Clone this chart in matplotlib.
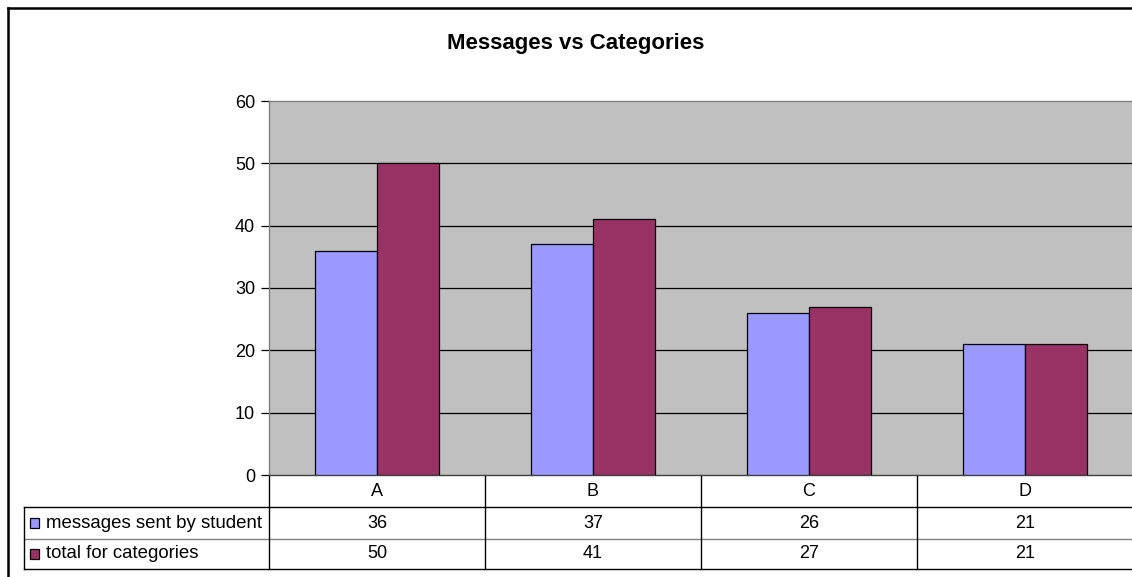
import matplotlib.pyplot as plt
import matplotlib.transforms as mtransforms
from matplotlib.lines import Line2D
from matplotlib.patches import Rectangle
import numpy as np

plt.rcParams['font.family'] = ['Liberation Sans', 'DejaVu Sans']

categories = ["A", "B", "C", "D"]
series_names = ["messages sent by student", "total for categories"]
sent_by_student = [36, 37, 26, 21]
total_for_categories = [50, 41, 27, 21]
y_ticks = [0, 10, 20, 30, 40, 50, 60]

colors = ["#9999FF", "#993366"]

W, H = 1132, 577
fig = plt.figure(figsize=(W / 100, H / 100), dpi=100)

# plot area in pixel terms
left, right, top, bottom = 269, 1133, 101, 475
ax = fig.add_axes([left / W, 1 - bottom / H, (right - left) / W, (bottom - top) / H])
ax.set_facecolor("#C0C0C0")

x = np.arange(len(categories))
bw = 0.287
ax.bar(x - bw / 2, sent_by_student, bw, color=colors[0], edgecolor="black", linewidth=0.9, zorder=3)
ax.bar(x + bw / 2, total_for_categories, bw, color=colors[1], edgecolor="black", linewidth=0.9, zorder=3)

ax.set_xlim(-0.5, len(categories) - 0.5)
ax.set_ylim(0, 60)
ax.set_yticks(y_ticks)
ax.set_yticklabels([str(t) for t in y_ticks], fontsize=13)
ax.tick_params(axis="y", length=6, width=0.9, pad=4, colors="black")
ax.set_xticks([])
for t in y_ticks[1:-1]:
    ax.axhline(t, color="black", linewidth=0.9, zorder=1)

ax.spines["top"].set_color("#808080")
ax.spines["right"].set_visible(False)
ax.spines["left"].set_color("#808080")
ax.spines["bottom"].set_color("#404040")
for s in ax.spines.values():
    s.set_linewidth(1.0)

# data table under the chart: x in data units, y in axes fraction
trans = mtransforms.blended_transform_factory(ax.transData, ax.transAxes)
ph = bottom - top
rows_px = [475, 507, 539, 569]
rows = [(bottom - r) / ph for r in rows_px]
label_left = -0.5 - (left - 24) / 216
edges = np.arange(len(categories) + 1) - 0.5

def hline(x0, x1, y, color="black", lw=1.0):
    ax.add_line(Line2D([x0, x1], [y, y], transform=trans, color=color, lw=lw, clip_on=False))

def vline(xv, y0, y1, color="black", lw=1.0):
    ax.add_line(Line2D([xv, xv], [y0, y1], transform=trans, color=color, lw=lw, clip_on=False))

hline(label_left, edges[-1], rows[1])
hline(label_left, edges[-1], rows[2], color="#808080")
hline(label_left, edges[-1], rows[3])
vline(label_left, rows[1], rows[3])
for e in edges:
    vline(e, rows[0], rows[3])

for i, c in enumerate(categories):
    ax.text(x[i], (rows[0] + rows[1]) / 2, c, transform=trans, ha="center", va="center", fontsize=13)

for r, (name, vals) in enumerate(zip(series_names, [sent_by_student, total_for_categories])):
    yc = (rows[r + 1] + rows[r + 2]) / 2
    for i, v in enumerate(vals):
        ax.text(x[i], yc, str(v), transform=trans, ha="center", va="center", fontsize=13)
    ax.text(label_left + 0.102, yc, name, transform=trans, ha="left", va="center", fontsize=13.4)
    key = Rectangle((label_left + 0.028, yc - 0.0125), 0.04, 0.025, transform=trans,
                    facecolor=colors[r], edgecolor="black", linewidth=0.9, clip_on=False)
    ax.add_patch(key)

# chart area frame
fig.add_artist(Line2D([8 / W, 8 / W], [0, 1 - 8 / H], color="black", lw=1.8))
fig.add_artist(Line2D([8 / W, 1], [1 - 8 / H, 1 - 8 / H], color="black", lw=1.8))

fig.text(576 / W, 1 - 43 / H, "Messages vs Categories", ha="center", va="center",
         fontsize=16, fontweight="bold")

fig.savefig("out.png", dpi=100)
